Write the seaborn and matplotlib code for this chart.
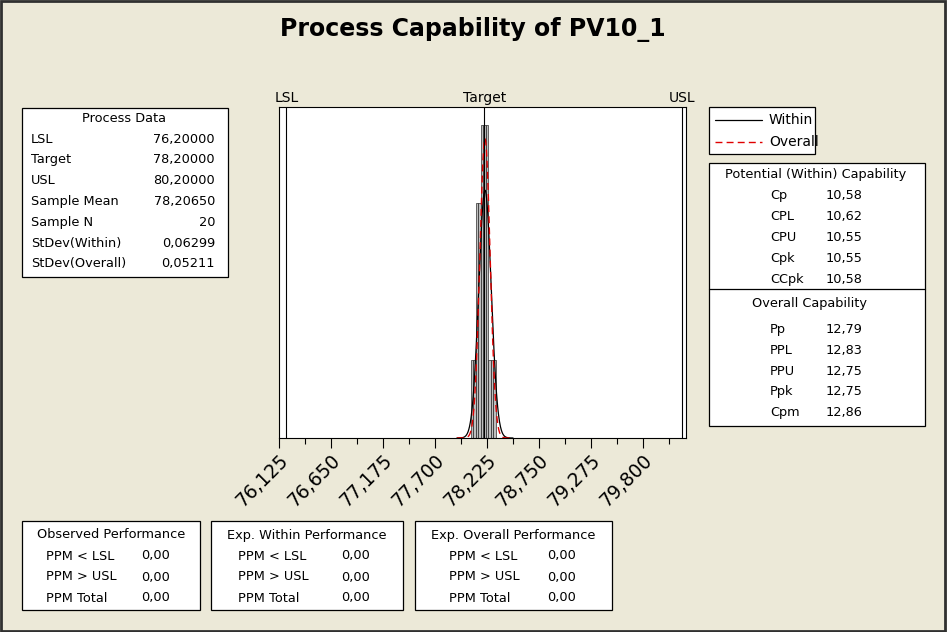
import numpy as np
import pandas as pd
import matplotlib
matplotlib.use('Agg')
import matplotlib.pyplot as plt
from matplotlib.patches import Rectangle
from matplotlib.lines import Line2D
from matplotlib.ticker import FuncFormatter
import seaborn as sns

# Canvas size in pixels
W, H = 947, 632
BG = '#ECE9D8'

# Histogram (bin edges and counts)
bin_edges = [78.065, 78.09, 78.115, 78.14, 78.165, 78.19, 78.215, 78.24, 78.265, 78.29, 78.315]
bin_counts = [1, 1, 3, 3, 4, 4, 4, 1, 1, 1]

# Process data
lsl, target, usl = 76.2, 78.2, 80.2
sample_mean = 78.2065
sample_n = 20
sd_within = 0.06299
sd_overall = 0.05211

process_labels = ['LSL', 'Target', 'USL', 'Sample Mean', 'Sample N', 'StDev(Within)', 'StDev(Overall)']
process_values = ['76,20000', '78,20000', '80,20000', '78,20650', '20', '0,06299', '0,05211']

within_labels = ['Cp', 'CPL', 'CPU', 'Cpk', 'CCpk']
within_values = [10.58, 10.62, 10.55, 10.55, 10.58]
overall_labels = ['Pp', 'PPL', 'PPU', 'Ppk', 'Cpm']
overall_values = [12.79, 12.83, 12.75, 12.75, 12.86]

ppm_labels = ['PPM < LSL', 'PPM > USL', 'PPM Total']
ppm_observed = [0.00, 0.00, 0.00]
ppm_exp_within = [0.00, 0.00, 0.00]
ppm_exp_overall = [0.00, 0.00, 0.00]

tick_start = 76.125
tick_step = 0.525


def comma(v, nd=2):
    return f'{v:.{nd}f}'.replace('.', ',')


def fx(px):
    return px / W


def fy(py):
    return 1 - py / H


sns.set_style('white')
plt.rcParams['font.family'] = ['DejaVu Sans']
plt.rcParams['text.color'] = 'black'
plt.rcParams['xtick.color'] = 'black'
plt.rcParams['xtick.labelcolor'] = 'black'

fig = plt.figure(figsize=(W / 100, H / 100), dpi=100, facecolor=BG)
ax = fig.add_axes([fx(279), fy(438), fx(686) - fx(279), fy(107) - fy(438)])
ax.set_facecolor('white')

# Histogram bars
centers = [(a + b) / 2 for a, b in zip(bin_edges[:-1], bin_edges[1:])]
sns.histplot(x=centers, weights=bin_counts, bins=bin_edges, ax=ax,
             color='#BEBEBE', edgecolor='#1A1A1A', linewidth=0.45, alpha=1)

# Fitted normal curves (within / overall) scaled to counts
binw = bin_edges[1] - bin_edges[0]
xs = np.linspace(sample_mean - 4.5 * sd_within, sample_mean + 4.5 * sd_within, 300)
curves = pd.DataFrame({
    'x': np.concatenate([xs, xs]),
    'y': np.concatenate([
        sample_n * binw * np.exp(-0.5 * ((xs - sample_mean) / sd_within) ** 2) / (sd_within * np.sqrt(2 * np.pi)),
        sample_n * binw * np.exp(-0.5 * ((xs - sample_mean) / sd_overall) ** 2) / (sd_overall * np.sqrt(2 * np.pi)),
    ]),
    'fit': ['Within'] * len(xs) + ['Overall'] * len(xs),
})
sns.lineplot(data=curves[curves['fit'] == 'Within'], x='x', y='y', ax=ax,
             color='black', linewidth=0.9)
sns.lineplot(data=curves[curves['fit'] == 'Overall'], x='x', y='y', ax=ax,
             color='#E00000', linewidth=1.0, linestyle=(0, (5, 3)))

# Spec lines
for v, name in [(lsl, 'LSL'), (target, 'Target'), (usl, 'USL')]:
    ax.axvline(v, color='black', linewidth=0.8)
    ax.text(v, 1.005, name, transform=ax.get_xaxis_transform(), ha='center', va='bottom',
            fontsize=10)

ax.set_xlim(tick_start, 80.238)
ax.set_ylim(0, 4.23)
ax.set_xlabel('')
ax.set_ylabel('')
ax.set_yticks([])
ax.set_xticks([tick_start + i * tick_step for i in range(8)])
ax.set_xticks([tick_start + tick_step / 2 + i * tick_step for i in range(8)], minor=True)
ax.xaxis.set_major_formatter(FuncFormatter(lambda v, p: comma(v, 3)))
ax.tick_params(axis='x', which='major', direction='out', length=7, width=0.8,
               labelsize=13.5, bottom=True, pad=2, colors='black')
ax.tick_params(axis='x', which='minor', direction='out', length=4, width=0.8, bottom=True,
               colors='black')
for lab in ax.get_xticklabels():
    lab.set_rotation(45)
    lab.set_ha('right')
    lab.set_va('top')
    lab.set_rotation_mode('anchor')
for sp in ax.spines.values():
    sp.set_color('black')
    sp.set_linewidth(0.8)

# Title
fig.text(fx(473), fy(29), 'Process Capability of PV10_1', ha='center', va='center',
         fontsize=17, fontweight='bold')


def box(x0, y0, x1, y1):
    fig.add_artist(Rectangle((fx(x0), fy(y1)), fx(x1) - fx(x0), fy(y0) - fy(y1),
                             transform=fig.transFigure, facecolor='white',
                             edgecolor='black', linewidth=0.9))


FS = 9.3

# Process Data box
box(22, 108, 228, 277)
fig.text(fx(124), fy(119), 'Process Data', ha='center', va='center', fontsize=FS)
for i, (lab, val) in enumerate(zip(process_labels, process_values)):
    yy = 139 + i * 20.8
    fig.text(fx(31), fy(yy), lab, ha='left', va='center', fontsize=FS)
    fig.text(fx(215), fy(yy), val, ha='right', va='center', fontsize=FS)

# Legend box
box(709, 107, 815, 154)
fig.add_artist(Line2D([fx(715), fx(762)], [fy(120), fy(120)], transform=fig.transFigure,
                      color='black', linewidth=0.9))
fig.add_artist(Line2D([fx(715), fx(762)], [fy(142), fy(142)], transform=fig.transFigure,
                      color='#E00000', linewidth=1.0, linestyle=(0, (5, 3))))
fig.text(fx(769), fy(120), 'Within', ha='left', va='center', fontsize=10)
fig.text(fx(769), fy(142), 'Overall', ha='left', va='center', fontsize=10)

# Capability box
box(709, 163, 925, 426)
fig.add_artist(Line2D([fx(709), fx(925)], [fy(289), fy(289)], transform=fig.transFigure,
                      color='black', linewidth=0.9))
fig.text(fx(816), fy(175), 'Potential (Within) Capability', ha='center', va='center', fontsize=FS)
for i, (lab, val) in enumerate(zip(within_labels, within_values)):
    yy = 196 + i * 20.8
    fig.text(fx(770), fy(yy), lab, ha='left', va='center', fontsize=FS)
    fig.text(fx(826), fy(yy), comma(val), ha='left', va='center', fontsize=FS)
fig.text(fx(809), fy(304), 'Overall Capability', ha='center', va='center', fontsize=FS)
for i, (lab, val) in enumerate(zip(overall_labels, overall_values)):
    yy = 330 + i * 20.6
    fig.text(fx(770), fy(yy), lab, ha='left', va='center', fontsize=FS)
    fig.text(fx(826), fy(yy), comma(val), ha='left', va='center', fontsize=FS)

# Bottom performance boxes
perf = [
    ('Observed Performance', ppm_observed, 22, 200, 46, 141),
    ('Exp. Within Performance', ppm_exp_within, 211, 403, 238, 341),
    ('Exp. Overall Performance', ppm_exp_overall, 415, 612, 449, 547),
]
for title, vals, x0, x1, lx, vx in perf:
    box(x0, 521, x1, 610)
    fig.text(fx((x0 + x1) / 2), fy(535), title, ha='center', va='center', fontsize=FS)
    for i, (lab, val) in enumerate(zip(ppm_labels, vals)):
        yy = 556 + i * 21
        fig.text(fx(lx), fy(yy), lab, ha='left', va='center', fontsize=FS)
        fig.text(fx(vx), fy(yy), comma(val), ha='left', va='center', fontsize=FS)

# Outer frame
fig.add_artist(Rectangle((0.001, 0.002), 0.997, 0.996, transform=fig.transFigure,
                         fill=False, edgecolor='#303030', linewidth=2))

fig.savefig('out.png', dpi=100, facecolor=BG)
